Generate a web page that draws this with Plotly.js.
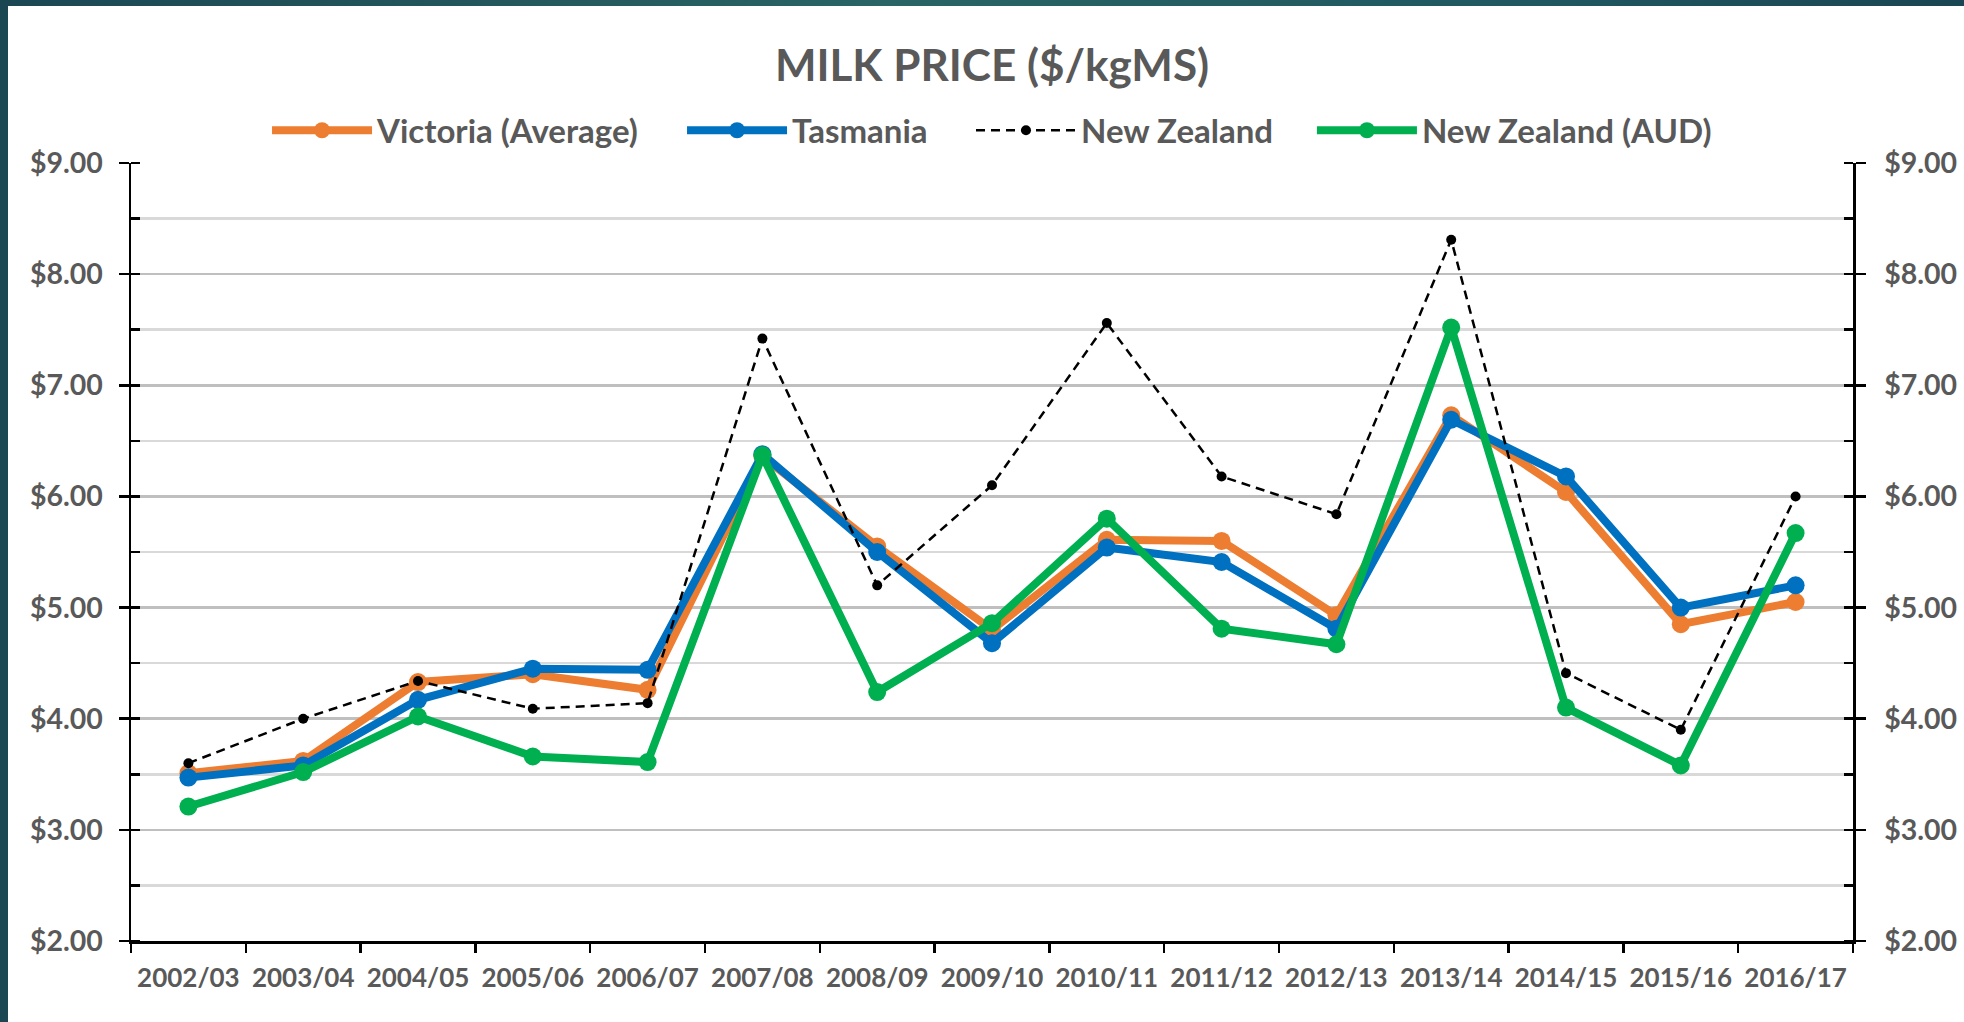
<!DOCTYPE html>
<html>
<head>
<meta charset="utf-8">
<script src="https://cdn.plot.ly/plotly-3.0.1.min.js"></script>
<style>
  html, body { margin: 0; padding: 0; width: 1964px; height: 1022px; overflow: hidden;
    background: linear-gradient(90deg, #1b4753 0%, #2a6464 45%, #1f5660 80%, #1a4552 100%); }
  #chart { position: absolute; left: 8px; top: 6px; width: 1956px; height: 1016px; background: #ffffff; }
</style>
</head>
<body>
<div id="chart"></div>
<script>
const seasons = ["2002/03","2003/04","2004/05","2005/06","2006/07","2007/08","2008/09","2009/10",
                 "2010/11","2011/12","2012/13","2013/14","2014/15","2015/16","2016/17"];
const victoria  = [3.51, 3.62, 4.33, 4.40, 4.26, 6.36, 5.55, 4.80, 5.61, 5.60, 4.93, 6.73, 6.04, 4.85, 5.05];
const tasmania  = [3.47, 3.58, 4.17, 4.45, 4.44, 6.38, 5.50, 4.68, 5.54, 5.41, 4.81, 6.69, 6.18, 5.00, 5.20];
const newZealand    = [3.60, 4.00, 4.34, 4.09, 4.14, 7.42, 5.20, 6.10, 7.56, 6.18, 5.84, 8.31, 4.41, 3.90, 6.00];
const newZealandAud = [3.21, 3.52, 4.02, 3.66, 3.61, 6.37, 4.24, 4.86, 5.80, 4.81, 4.67, 7.52, 4.10, 3.58, 5.67];
const seriesNames = ["Victoria (Average)", "Tasmania", "New Zealand", "New Zealand (AUD)"];

const FONT = "Lato, 'Open Sans', sans-serif";
const GREY = "#595959";

const thick = (name, y, color, legendId, yax) => ({
  type: "scatter", mode: "lines+markers", name: name, x: seasons, y: y, legend: legendId, yaxis: yax,
  line: { color: color, width: 8 },
  marker: { color: color, size: 18 }
});

const traces = [
  thick(seriesNames[0], victoria, "#ED7D31", "legend", "y"),
  thick(seriesNames[1], tasmania, "#0070C0", "legend2", "y"),
  { type: "scatter", mode: "lines+markers", name: seriesNames[2], x: seasons, y: newZealand,
    legend: "legend3", yaxis: "y",
    line: { color: "#000000", width: 2.5, dash: "9px,6px" },
    marker: { color: "#000000", size: 10 } },
  thick(seriesNames[3], newZealandAud, "#00B050", "legend4", "y2")
];

const tickFont = { family: FONT, size: 28.5, color: GREY, weight: "bold" };
const legendFont = { family: FONT, size: 33, color: GREY, weight: "bold" };
const mkLegend = (x) => ({ orientation: "h", x: x, xanchor: "left", y: 1.042, yanchor: "middle",
  font: legendFont, bgcolor: "rgba(0,0,0,0)", itemwidth: 100, borderwidth: 0 });

const layout = {
  width: 1956, height: 1016,
  paper_bgcolor: "#ffffff", plot_bgcolor: "#ffffff",
  margin: { l: 123, r: 111, t: 157, b: 81 },
  font: { family: FONT, color: GREY },
  title: { text: "MILK PRICE ($/kgMS)", x: 0.5, xref: "paper", y: 0.941, yanchor: "middle",
           font: { family: FONT, size: 44, color: GREY, weight: "bold" } },
  showlegend: true,
  legend: mkLegend(0.079),
  legend2: mkLegend(0.320),
  legend3: mkLegend(0.4878),
  legend4: mkLegend(0.6858),
  xaxis: {
    type: "category", range: [-0.5, 14.5], tickson: "boundaries",
    ticks: "outside", ticklen: 9, tickwidth: 2.5, tickcolor: "#000000",
    showline: true, linecolor: "#000000", linewidth: 3, showgrid: false, zeroline: false,
    tickfont: { family: FONT, size: 26, color: GREY, weight: "bold" }, ticklabelstandoff: 12
  },
  yaxis: {
    range: [2, 9], dtick: 1, tickprefix: "$", tickformat: ".2f",
    ticks: "outside", ticklen: 10, tickwidth: 2.5, tickcolor: "#000000",
    showline: true, linecolor: "#000000", linewidth: 2.5, zeroline: false,
    showgrid: true, gridcolor: "#bfbfbf", gridwidth: 2.5,
    minor: { dtick: 0.5, showgrid: true, gridcolor: "#d9d9d9", gridwidth: 2.5,
             ticks: "inside", ticklen: 9, tickwidth: 2.5, tickcolor: "#000000" },
    tickfont: tickFont, ticklabelstandoff: 10
  },
  yaxis2: {
    overlaying: "y", side: "right", anchor: "x", range: [2, 9], dtick: 1,
    tickprefix: "$", tickformat: ".2f",
    ticks: "outside", ticklen: 10, tickwidth: 2.5, tickcolor: "#000000",
    showline: true, linecolor: "#000000", linewidth: 2.5, zeroline: false, showgrid: false,
    minor: { dtick: 0.5, showgrid: false, ticks: "inside", ticklen: 9, tickwidth: 2.5, tickcolor: "#000000" },
    tickfont: tickFont, ticklabelstandoff: 13
  },
  yaxis3: {
    overlaying: "y", side: "left", anchor: "x", range: [2, 9], dtick: 1,
    ticks: "inside", ticklen: 10, tickwidth: 2.5, tickcolor: "#000000",
    showticklabels: false, showline: false, showgrid: false, zeroline: false
  },
  yaxis4: {
    overlaying: "y", side: "right", anchor: "x", range: [2, 9], dtick: 1,
    ticks: "inside", ticklen: 10, tickwidth: 2.5, tickcolor: "#000000",
    showticklabels: false, showline: false, showgrid: false, zeroline: false
  }
};

Plotly.newPlot("chart", traces, layout, { displayModeBar: false, staticPlot: true });
</script>
</body>
</html>
